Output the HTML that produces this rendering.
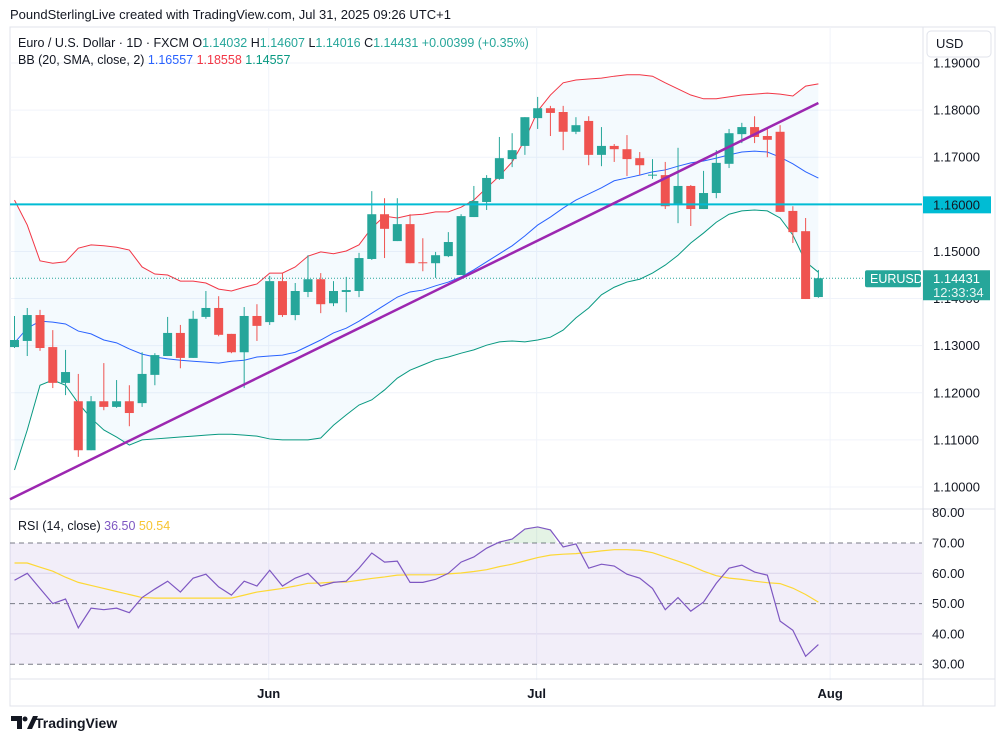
<!DOCTYPE html>
<html><head><meta charset="utf-8">
<style>
html,body{margin:0;padding:0;background:#fff;width:1005px;height:741px;overflow:hidden;font-family:"Liberation Sans",Arial,sans-serif;}
svg{position:absolute;left:0;top:0;}
</style></head>
<body>
<svg id="chart" width="1005" height="741" viewBox="0 0 1005 741" xmlns="http://www.w3.org/2000/svg">
<text x="10" y="19" font-size="13" fill="#131722">PoundSterlingLive created with TradingView.com, Jul 31, 2025 09:26 UTC+1</text>
<rect x="10" y="27" width="985" height="679" fill="none" stroke="#e0e3eb"/>
<g id="grid"></g>
<g id="main"></g>
<g id="rsi"></g>
<g id="axes"></g>
<g font-size="12.5">
<text x="18" y="47" fill="#131722">Euro / U.S. Dollar · 1D · FXCM <tspan>O</tspan><tspan fill="#26a69a">1.14032</tspan> <tspan>H</tspan><tspan fill="#26a69a">1.14607</tspan> <tspan>L</tspan><tspan fill="#26a69a">1.14016</tspan> <tspan>C</tspan><tspan fill="#26a69a">1.14431</tspan> <tspan fill="#26a69a">+0.00399 (+0.35%)</tspan></text>
<text x="18" y="64" fill="#131722">BB (20, SMA, close, 2) <tspan fill="#2962ff">1.16557</tspan> <tspan fill="#f23645">1.18558</tspan> <tspan fill="#089981">1.14557</tspan></text>
<text x="18" y="530" fill="#131722">RSI (14, close) <tspan fill="#7e57c2">36.50</tspan> <tspan fill="#f7c531">50.54</tspan></text>
</g>
<g>
<path d="M11 716h11v13h-5v-8h-6z M27 729l6-13h5l-6 13z" fill="#131722"/>
<circle cx="25" cy="719" r="2.5" fill="#131722"/>
<text x="35" y="728" font-size="14" font-weight="bold" fill="#131722">TradingView</text>
</g>
</svg>
<script>
const opens=[1.1297,1.1310,1.1365,1.1297,1.1221,1.1182,1.1078,1.1182,1.1170,1.1182,1.1178,1.1238,1.1278,1.1327,1.1274,1.1361,1.1380,1.1325,1.1286,1.1363,1.1350,1.1437,1.1365,1.1414,1.1441,1.1390,1.1414,1.1416,1.1484,1.1579,1.1522,1.1558,1.1477,1.1475,1.1490,1.1450,1.1573,1.1605,1.1654,1.1696,1.1724,1.1783,1.1804,1.1796,1.1754,1.1777,1.1705,1.1724,1.1717,1.1698,1.1661,1.1662,1.1599,1.1639,1.1590,1.1624,1.1686,1.1749,1.1764,1.1745,1.1754,1.1586,1.1543,1.14032];
const highs=[1.1363,1.1380,1.1376,1.1333,1.1291,1.1240,1.1193,1.1263,1.1227,1.1216,1.1286,1.1284,1.1361,1.1344,1.1374,1.1416,1.1405,1.1325,1.1382,1.1388,1.1448,1.1454,1.1433,1.1492,1.1454,1.1437,1.1446,1.1497,1.1628,1.1613,1.1613,1.1579,1.1528,1.1499,1.1541,1.1579,1.1639,1.1662,1.1743,1.1751,1.1785,1.1828,1.1809,1.1809,1.1785,1.1787,1.1764,1.1728,1.1747,1.1711,1.1696,1.1690,1.1720,1.1641,1.1671,1.1715,1.1760,1.1773,1.1787,1.1760,1.1768,1.1596,1.1571,1.14607];
const lows=[1.1295,1.1278,1.1289,1.1210,1.1195,1.1064,1.1078,1.1163,1.1168,1.1129,1.1170,1.1216,1.1278,1.1252,1.1274,1.1357,1.1320,1.1284,1.1210,1.1310,1.1344,1.1361,1.1354,1.1403,1.1369,1.1384,1.1371,1.1403,1.1482,1.1486,1.1522,1.1475,1.1458,1.1444,1.1488,1.1450,1.1573,1.1588,1.1652,1.1679,1.1705,1.1760,1.1745,1.1715,1.1749,1.1683,1.1681,1.1690,1.1660,1.1662,1.1654,1.1590,1.1560,1.1554,1.1590,1.1613,1.1677,1.1730,1.1730,1.1700,1.1584,1.1518,1.1399,1.14016];
const closes=[1.1312,1.1365,1.1295,1.1221,1.1244,1.1078,1.1182,1.1170,1.1182,1.1157,1.1240,1.1280,1.1327,1.1274,1.1357,1.1380,1.1323,1.1286,1.1363,1.1342,1.1437,1.1365,1.1416,1.1441,1.1388,1.1416,1.1418,1.1486,1.1579,1.1548,1.1558,1.1475,1.1475,1.1492,1.1520,1.1575,1.1607,1.1656,1.1698,1.1715,1.1785,1.1804,1.1794,1.1754,1.1768,1.1705,1.1724,1.1717,1.1696,1.1683,1.1663,1.1596,1.1639,1.1590,1.1624,1.1688,1.1751,1.1764,1.1743,1.1737,1.1584,1.1541,1.1399,1.14431];
const bbUpper=[1.1609,1.1556,1.1480,1.1475,1.1478,1.1507,1.1514,1.1512,1.1509,1.1503,1.1467,1.1452,1.1450,1.1437,1.1437,1.1433,1.1420,1.1416,1.1424,1.1431,1.1454,1.1454,1.1467,1.1490,1.1499,1.1495,1.1501,1.1514,1.1550,1.1575,1.1571,1.1577,1.1579,1.1584,1.1584,1.1594,1.1609,1.1635,1.1660,1.1690,1.1737,1.1798,1.1832,1.1858,1.1864,1.1866,1.1868,1.1872,1.1875,1.1875,1.1872,1.1858,1.1845,1.1832,1.1824,1.1824,1.1828,1.1832,1.1834,1.1836,1.1834,1.1830,1.1851,1.18558];
const bbMid=[1.1306,1.1337,1.1352,1.1350,1.1346,1.1331,1.1325,1.1312,1.1306,1.1293,1.1282,1.1276,1.1272,1.1269,1.1267,1.1265,1.1263,1.1267,1.1269,1.1276,1.1278,1.1280,1.1286,1.1299,1.1312,1.1327,1.1337,1.1352,1.1369,1.1386,1.1403,1.1414,1.1418,1.1427,1.1435,1.1446,1.1461,1.1478,1.1495,1.1512,1.1533,1.1556,1.1573,1.1592,1.1609,1.1622,1.1635,1.1650,1.1656,1.1662,1.1669,1.1673,1.1681,1.1688,1.1692,1.1698,1.1705,1.1711,1.1713,1.1711,1.1700,1.1686,1.1669,1.16557];
const bbLower=[1.1036,1.1121,1.1216,1.1227,1.1216,1.1178,1.1146,1.1121,1.1106,1.1089,1.1100,1.1102,1.1104,1.1106,1.1108,1.1110,1.1112,1.1112,1.1110,1.1108,1.1102,1.1100,1.1100,1.1100,1.1104,1.1131,1.1153,1.1174,1.1185,1.1206,1.1231,1.1248,1.1259,1.1270,1.1276,1.1284,1.1291,1.1301,1.1308,1.1310,1.1308,1.1312,1.1318,1.1333,1.1359,1.1380,1.1408,1.1424,1.1435,1.1441,1.1454,1.1471,1.1492,1.1518,1.1539,1.1562,1.1579,1.1586,1.1588,1.1586,1.1571,1.1535,1.1478,1.14557];
const rsiValues=[57.7,60,55,50,51.5,42,48.5,48,48.5,47,52,54.8,57.4,53.8,58.4,59.7,55.5,52.8,57.4,55.8,61,55.8,58.4,60,55.8,57,57.4,61.7,66.7,63.7,64,57,57,58,60,63.7,65.4,68.3,70.3,71.3,74.6,75.3,74.3,68.7,69.7,61.7,63,62.4,59.7,58.4,55,48,52,47.5,50.5,56.7,61.7,62.7,60.4,59.4,44.2,41.2,32.6,36.5];
const rsiMA=[63.4,63.4,62,60.7,58.7,57,56,55,54,53,52,51.8,51.8,51.8,51.8,51.8,51.8,51.8,52.8,53.8,54.4,55,55.8,56.7,56.8,57.1,57.1,57.7,58.3,58.8,59.4,59.5,59.5,59.5,59.8,60.1,60.6,61.2,62.2,63,64.1,65.2,66,66.3,66.5,66.9,67.4,67.8,67.8,67.6,66.8,65.4,64,62.5,60.7,59.2,58.4,58,57.4,56.9,56.6,55.1,53,50.5];
const priceTicks=[1.19,1.18,1.17,1.16,1.15,1.14,1.13,1.12,1.11,1.10];
const rsiTicks=[80,70,60,50,40,30];
const monthLabels=["Jun","Jul","Aug"];
const monthIndex=[20,41,64];
const trendStart=[-0.35,1.0974];
const trendEnd=[63,1.1815];
const hLevel=1.16;

const NS="http://www.w3.org/2000/svg";
const xOf=i=>14.5+i*12.76;
const yP=p=>63+(1.19-p)*4711;
const yR=v=>543+(70-v)*3.03;
function mk(tag,attrs,parent){const e=document.createElementNS(NS,tag);for(const k in attrs)e.setAttribute(k,attrs[k]);parent.appendChild(e);return e;}
const grid=document.getElementById('grid'),main=document.getElementById('main'),rsi=document.getElementById('rsi'),axes=document.getElementById('axes');

// grid
priceTicks.forEach(p=>{const l=mk('line',{x1:10,x2:922,y1:yP(p),y2:yP(p),stroke:'#f0f3fa'},grid);

});
rsiTicks.forEach(v=>{if(v===60||v===40){const l=mk('line',{x1:10,x2:922,y1:yR(v),y2:yR(v),stroke:'#e6e3f0'},grid);

}});
monthIndex.forEach(i=>{const l=mk('line',{x1:xOf(i)-1,x2:xOf(i)-1,y1:27,y2:680,stroke:'#f0f3fa'},grid);

});

// BB fill
let up=bbUpper.map((v,i)=>xOf(i)+','+yP(v)),lo=bbLower.map((v,i)=>xOf(i)+','+yP(v)).reverse();
const fill=mk('polygon',{points:up.concat(lo).join(' '),fill:'rgba(33,150,243,0.05)'},main);


[[bbUpper,'#f23645','bb-upper'],[bbMid,'#2962ff','bb-basis'],[bbLower,'#089981','bb-lower']].forEach(([arr,c,n])=>{
const pl=mk('polyline',{points:arr.map((v,i)=>xOf(i)+','+yP(v)).join(' '),fill:'none',stroke:c,'stroke-width':1},main);

});

// last price dotted line
const lp=mk('line',{x1:10,x2:866,y1:yP(closes[63]),y2:yP(closes[63]),stroke:'#26a69a','stroke-dasharray':'1 2'},main);



// candles
opens.forEach((o,i)=>{const c=closes[i],up=c>=o,col=up?'#26a69a':'#ef5350',x=xOf(i);
const g=mk('g',{},main);


mk('line',{x1:x,x2:x,y1:yP(highs[i]),y2:yP(lows[i]),stroke:col,'stroke-width':1},g);
const t=yP(Math.max(o,c)),b=yP(Math.min(o,c));
mk('rect',{x:x-4.5,y:t,width:9,height:Math.max(1,b-t),fill:col},g);});

// horizontal level & trendline
const hl=mk('line',{x1:10,x2:922,y1:yP(hLevel),y2:yP(hLevel),stroke:'#00bcd4','stroke-width':2},main);


const tl=mk('line',{x1:xOf(trendStart[0]),y1:yP(trendStart[1]),x2:xOf(trendEnd[0]),y2:yP(trendEnd[1]),stroke:'#9c27b0','stroke-width':2.5},main);



// RSI pane
const band=mk('rect',{x:10,y:yR(70),width:912,height:yR(30)-yR(70),fill:'rgba(126,87,194,0.1)'},rsi);


[70,50,30].forEach(v=>{const l=mk('line',{x1:10,x2:922,y1:yR(v),y2:yR(v),stroke:'#787b86','stroke-dasharray':'5 4'},rsi);

});
// overbought fill
let ob=[];rsiValues.forEach((v,i)=>{if(v>70)ob.push([i,v]);});
if(ob.length){const pts=[xOf(ob[0][0]-0.5)+','+yR(70)].concat(ob.map(([i,v])=>xOf(i)+','+yR(v))).concat([xOf(ob[ob.length-1][0]+0.5)+','+yR(70)]);
const of=mk('polygon',{points:pts.join(' '),fill:'rgba(76,175,80,0.15)'},rsi);

}
const ma=mk('polyline',{points:rsiMA.map((v,i)=>xOf(i)+','+yR(v)).join(' '),fill:'none',stroke:'#fdd835','stroke-width':1.2},rsi);


const rl=mk('polyline',{points:rsiValues.map((v,i)=>xOf(i)+','+yR(v)).join(' '),fill:'none',stroke:'#7e57c2','stroke-width':1.2},rsi);



// axes frame
[[923,27,923,706],[10,509,995,509],[10,679,995,679]].forEach(([a,b,c,d])=>{const l=mk('line',{x1:a,y1:b,x2:c,y2:d,stroke:'#e0e3eb'},axes);

});
priceTicks.forEach(p=>{const t=mk('text',{x:933,y:yP(p)+4.5,'font-size':13,fill:'#131722'},axes);t.textContent=p.toFixed(5);

});
rsiTicks.forEach(v=>{const t=mk('text',{x:932,y:yR(v)+4.5,'font-size':13,fill:'#131722'},axes);t.textContent=v.toFixed(2);

});
monthLabels.forEach((m,k)=>{const t=mk('text',{x:xOf(monthIndex[k])-1,y:698,'font-size':13,'font-weight':'bold',fill:'#131722','text-anchor':'middle'},axes);t.textContent=m;

});
// USD box
const ub=mk('rect',{x:927,y:31,width:64,height:26,rx:4,fill:'#fff',stroke:'#e0e3eb'},axes);


const ut=mk('text',{x:936,y:48,'font-size':13,fill:'#131722'},axes);ut.textContent='USD';


// 1.16 label
const hb=mk('rect',{x:923,y:yP(hLevel)-8,width:68,height:17,fill:'#00bcd4'},axes);


const ht=mk('text',{x:933,y:yP(hLevel)+5,'font-size':13,fill:'#131722'},axes);ht.textContent='1.16000';


// last price labels
const ly=yP(closes[63]);
const sb=mk('rect',{x:865,y:ly-8,width:56,height:17,rx:2,fill:'#26a69a'},axes);


const st=mk('text',{x:870,y:ly+5,'font-size':12.5,fill:'#fff'},axes);st.textContent='EURUSD';


const pb=mk('rect',{x:923,y:ly-8,width:67,height:30,fill:'#26a69a'},axes);


const pt=mk('text',{x:933,y:ly+5,'font-size':13,fill:'#fff'},axes);pt.textContent=closes[63].toFixed(5);


const ct=mk('text',{x:933,y:ly+19,'font-size':13,fill:'#e8f5f3'},axes);ct.textContent='12:33:34';


</script>
</body></html>
